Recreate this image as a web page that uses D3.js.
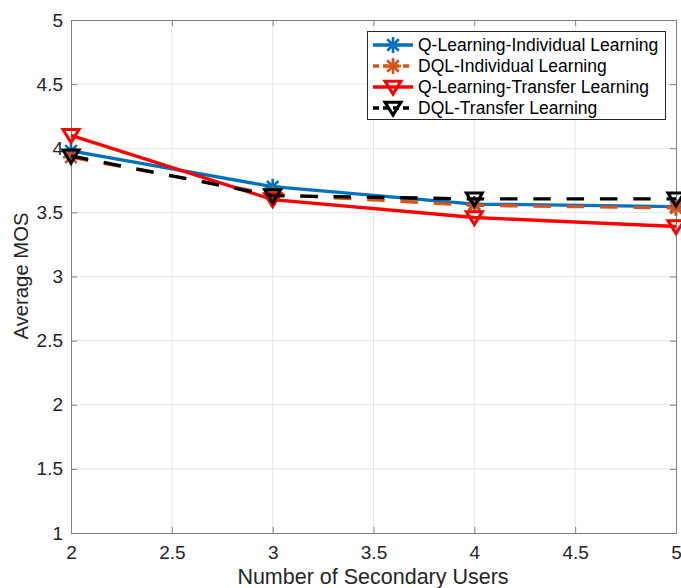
<!DOCTYPE html>
<html>
<head>
<meta charset="utf-8">
<script src="https://cdn.jsdelivr.net/npm/d3@7"></script>
<style>
  html, body { margin: 0; padding: 0; background: #fff; }
  svg { display: block; font-family: "Liberation Sans", Arial, Helvetica, sans-serif; }
</style>
</head>
<body>
<svg id="chart" width="681" height="588"></svg>
<script>
// Number of secondary users on the x axis
const users = [2, 3, 4, 5];

// Average MOS per scheme
const qlIndividual  = [3.98, 3.70, 3.565, 3.545];
const dqlIndividual = [3.93, 3.64, 3.555, 3.535];
const qlTransfer    = [4.10, 3.60, 3.46, 3.39];
const dqlTransfer   = [3.94, 3.63, 3.605, 3.605];

const seriesNames = [
  "Q-Learning-Individual Learning",
  "DQL-Individual Learning",
  "Q-Learning-Transfer Learning",
  "DQL-Transfer Learning"
];

const xTicks = [2, 2.5, 3, 3.5, 4, 4.5, 5];
const yTicks = [1, 1.5, 2, 2.5, 3, 3.5, 4, 4.5, 5];

const series = [
  { name: seriesNames[0], values: qlIndividual,  color: "#0072BD", dash: null,        marker: "star" },
  { name: seriesNames[1], values: dqlIndividual, color: "#D95319", dash: "17.5,15.8", marker: "star" },
  { name: seriesNames[2], values: qlTransfer,    color: "#FF0000", dash: null,        marker: "tri" },
  { name: seriesNames[3], values: dqlTransfer,   color: "#000000", dash: "17.5,15.8", marker: "tri" }
];

const svg = d3.select("#chart");
const plot = { left: 71, top: 20, right: 676, bottom: 533 };

const x = d3.scaleLinear().domain([2, 5]).range([plot.left, plot.right]);
const y = d3.scaleLinear().domain([1, 5]).range([plot.bottom, plot.top]);

const axisColor = "#808080";
const textColor = "#262626";

// grid
const grid = svg.append("g");
grid.selectAll(".gx").data(xTicks.slice(1, -1)).join("line")
  .attr("x1", d => x(d)).attr("x2", d => x(d))
  .attr("y1", plot.top).attr("y2", plot.bottom)
  .attr("stroke", "#e6e6e6").attr("stroke-width", 1);
grid.selectAll(".gy").data(yTicks.slice(1, -1)).join("line")
  .attr("x1", plot.left).attr("x2", plot.right)
  .attr("y1", d => y(d)).attr("y2", d => y(d))
  .attr("stroke", "#e6e6e6").attr("stroke-width", 1);

// axes with inward ticks on all four sides
function styleAxis(g) {
  g.select(".domain").attr("stroke", axisColor).attr("stroke-width", 1);
  g.selectAll(".tick line").attr("stroke", axisColor);
  g.selectAll(".tick text").attr("fill", textColor)
    .style("font-size", "19px")
    .style("font-family", "'Liberation Sans', Arial, Helvetica, sans-serif");
}
const fmt = d3.format("~g");

svg.append("g").attr("transform", `translate(0,${plot.bottom})`)
  .call(d3.axisBottom(x).tickValues(xTicks).tickFormat(fmt).tickSizeInner(-6).tickSizeOuter(0).tickPadding(12.5))
  .call(styleAxis);
svg.append("g").attr("transform", `translate(0,${plot.top})`)
  .call(d3.axisTop(x).tickValues(xTicks).tickFormat("").tickSizeInner(-6).tickSizeOuter(0))
  .call(styleAxis);
svg.append("g").attr("transform", `translate(${plot.left},0)`)
  .call(d3.axisLeft(y).tickValues(yTicks).tickFormat(fmt).tickSizeInner(-6).tickSizeOuter(0).tickPadding(8))
  .call(styleAxis);
svg.append("g").attr("transform", `translate(${plot.right},0)`)
  .call(d3.axisRight(y).tickValues(yTicks).tickFormat("").tickSizeInner(-6).tickSizeOuter(0))
  .call(styleAxis);

// axis titles
svg.append("text")
  .attr("x", 373).attr("y", 584)
  .attr("text-anchor", "middle").attr("fill", textColor)
  .style("font-size", "21.5px").text("Number of Secondary Users");
svg.append("text")
  .attr("transform", `translate(28,276) rotate(-90)`)
  .attr("text-anchor", "middle").attr("fill", textColor)
  .style("font-size", "20.3px").text("Average MOS");

// marker drawing
function drawMarker(g, type, cx, cy, color) {
  if (type === "star") {
    const r = 8, d = r * 0.72;
    const p = `M${cx - r},${cy}L${cx + r},${cy}M${cx},${cy - r}L${cx},${cy + r}` +
              `M${cx - d},${cy - d}L${cx + d},${cy + d}M${cx - d},${cy + d}L${cx + d},${cy - d}`;
    g.append("path").attr("d", p).attr("stroke", color).attr("stroke-width", 2.6)
      .attr("fill", "none");
  } else {
    const w = 8, h = 13;
    const p = `M${cx - w},${cy - h * 0.45}L${cx + w},${cy - h * 0.45}L${cx},${cy + h * 0.55}Z`;
    g.append("path").attr("d", p).attr("stroke", color).attr("stroke-width", 3)
      .attr("fill", "none").attr("stroke-linejoin", "miter");
  }
}

const line = d3.line().x((d, i) => x(users[i])).y(d => y(d));

series.forEach(s => {
  const g = svg.append("g");
  g.append("path").datum(s.values).attr("d", line)
    .attr("fill", "none").attr("stroke", s.color).attr("stroke-width", 3.3)
    .attr("stroke-dasharray", s.dash);
  s.values.forEach((v, i) => drawMarker(g, s.marker, x(users[i]), y(v), s.color));
});

// legend
const leg = svg.append("g");
leg.append("rect").attr("x", 367.5).attr("y", 31.5).attr("width", 298).attr("height", 88)
  .attr("fill", "#fff").attr("stroke", "#262626").attr("stroke-width", 1);
series.forEach((s, i) => {
  const ly = 45 + i * 21;
  leg.append("line").attr("x1", 373).attr("x2", 413).attr("y1", ly).attr("y2", ly)
    .attr("stroke", s.color).attr("stroke-width", 3.3)
    .attr("stroke-dasharray", s.dash ? "6,4" : null);
  drawMarker(leg, s.marker, 393, ly, s.color);
  leg.append("text").attr("x", 418).attr("y", ly + 6).attr("fill", "#000")
    .style("font-size", "17.5px").text(s.name);
});
</script>
</body>
</html>
